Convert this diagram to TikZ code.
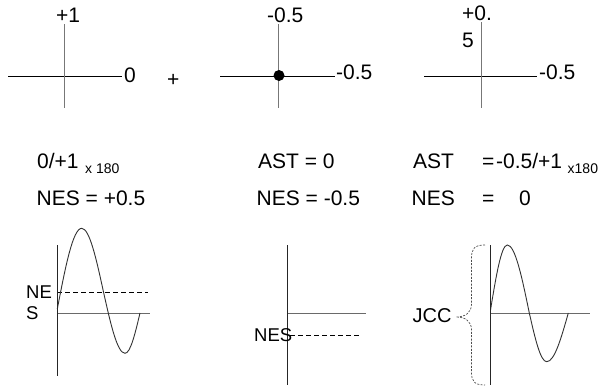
\documentclass[tikz,border=0pt]{standalone}
\usepackage{fontspec}
\setmainfont{Liberation Sans}
\definecolor{axgray}{HTML}{777777}
\definecolor{hgray}{HTML}{6A6A6A}
\definecolor{curve}{HTML}{333333}
\begin{document}
\begin{tikzpicture}[x=1pt,y=-1pt,
  lbl/.style={inner sep=0pt,anchor=base west,font=\fontsize{21}{25}\selectfont},
  small/.style={inner sep=0pt,anchor=base west,font=\fontsize{14}{17}\selectfont},
  blbl/.style={inner sep=0pt,anchor=base west,font=\fontsize{18.5}{22}\selectfont},
  hline/.style={line width=1pt,black},
  vline/.style={line width=1pt,axgray},
  bvline/.style={line width=1pt,black!85},
  gline/.style={line width=1pt,hgray},
  dline/.style={line width=1pt,black,dash pattern=on 5pt off 3pt},
  wave/.style={line width=0.9pt,curve},
  bracestyle/.style={line width=0.7pt,black!70,dash pattern=on 2pt off 1.4pt}]
\useasboundingbox (0,0) rectangle (604,388);
% ---------- top panel 1 ----------
\draw[hline] (8,76) -- (122,76);
\draw[vline] (64.3,24) -- (64.3,108);
\node[lbl] (t1top) at (56,22) {+1};
\node[lbl] (t1right) at (124,82) {0};
\node[lbl] (plus) at (167,86) {+};
% ---------- top panel 2 ----------
\draw[hline] (220,76) -- (335,76);
\draw[vline] (278.3,24) -- (278.3,108);
\fill[black] (279,75.5) circle (5.5);
\node[lbl] (t2top) at (267,22) {-0.5};
\node[lbl] (t2right) at (336,79) {-0.5};
% ---------- top panel 3 ----------
\draw[hline] (424,76) -- (537,76);
\draw[vline] (481.7,22) -- (481.7,108);
\node[lbl] (t3topa) at (462,20) {+0.};
\node[lbl] (t3topb) at (462,47) {5};
\node[lbl] (t3right) at (539,79) {-0.5};
% ---------- text rows ----------
\node[lbl] (f1) at (37,168) {0/+1};
\node[small] (f1s) at (85,173) {x 180};
\node[lbl] (n1) at (36.5,205) {NES = +0.5};
\node[lbl] (f2) at (258,168) {AST = 0};
\node[lbl] (n2) at (256.5,205) {NES = -0.5};
\node[lbl] (f3a) at (413,168) {AST};
\node[lbl] (f3b) at (482,168) {=};
\node[lbl] (f3c) at (496,168) {-0.5/+1};
\node[small] (f3s) at (567.5,173) {x180};
\node[lbl] (n3a) at (411.5,205) {NES};
\node[lbl] (n3b) at (482,205) {=};
\node[lbl] (n3c) at (519,205) {0};
% ---------- bottom panel 1 ----------
\draw[gline] (57.3,313) -- (150,313);
\draw[dline] (57.3,292) -- (148,292);
\draw[wave] (57.3,309) sin (81.7,228.3) cos (103.5,292) sin (125,353.3) cos (140,313);
\draw[bvline] (57.3,245) -- (57.3,376);
\node[blbl] (b1a) at (26,298) {NE};
\node[blbl] (b1b) at (26,319) {S};
% ---------- bottom panel 2 ----------
\draw[gline] (287.3,313) -- (366,313);
\draw[dline] (290,335) -- (360,335);
\draw[bvline] (287.3,245) -- (287.3,385);
\node[blbl] (b2) at (254,341) {NES};
% ---------- bottom panel 3 ----------
\draw[gline] (490.3,313) -- (590,313);
\draw[wave] (490.5,310) sin (507.3,245) cos (529.3,313) sin (546.7,361.7) cos (568.3,313);
\draw[bvline] (490.3,245) -- (490.3,385);
\draw[bracestyle] (485,245) .. controls (474,245) and (471.5,249) .. (471.5,258)
  -- (471.5,304) .. controls (471.5,313) and (465,317) .. (456,317)
  .. controls (465,317) and (471.5,321) .. (471.5,330)
  -- (471.5,372) .. controls (471.5,381) and (474,385) .. (485,385);
\node[inner sep=0pt,anchor=base west,font=\fontsize{20}{24}\selectfont] (b3) at (412.5,322) {JCC};
\end{tikzpicture}
\end{document}
